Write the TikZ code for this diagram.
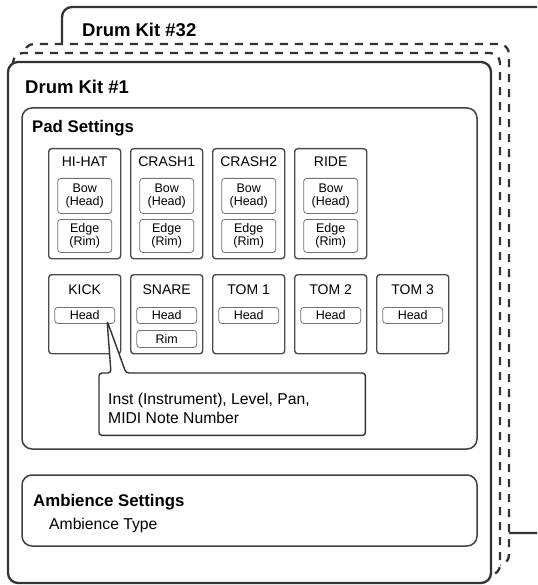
\documentclass[tikz,border=0pt]{standalone}
\usepackage{fontspec}
\setmainfont{Liberation Sans}
\usetikzlibrary{positioning, calc}

\begin{document}
\begin{tikzpicture}[x=1pt, y=-1pt, line join=round,
    kit/.style={draw=black!80, line width=2.3pt, fill=white, rounded corners=10pt},
    kitcopy/.style={kit, dash pattern=on 8pt off 7pt},
    group/.style={draw=black!75, line width=1.5pt, rounded corners=10pt},
    pad/.style={draw=black!70, line width=1.4pt, rounded corners=3pt, inner sep=0pt,
        minimum width=72pt, anchor=north west},
    padname/.style={anchor=base, inner sep=0pt, font=\fontsize{14}{16}\selectfont},
    zone/.style={draw=black!55, line width=0.8pt, rounded corners=3pt, inner sep=0pt,
        anchor=north, align=center, font=\fontsize{12.5}{13}\selectfont},
    kittitle/.style={anchor=base west, inner sep=0pt, font=\bfseries\fontsize{18.5}{22}\selectfont},
    grouptitle/.style={anchor=base west, inner sep=0pt, font=\bfseries\fontsize{16.8}{20}\selectfont},
    plain/.style={anchor=base west, inner sep=0pt, font=\fontsize{15.7}{19}\selectfont},
    notebox/.style={anchor=north west, inner sep=0pt, minimum width=266pt, minimum height=62pt},
    pointer/.style={draw=black!80, line width=1.4pt, fill=white, rounded corners=3pt}]

    \useasboundingbox (0,0) rectangle (537,585);
    \clip (0,0) rectangle (537,585);

    % kits, back to front
    \draw[kit] (62,7) rectangle (575,533);
    \node[kittitle] (kit32) at (82,36.7) {Drum Kit \#32};
    \draw[kitcopy] (24,44) rectangle (509,565);
    \draw[kitcopy] (13,53) rectangle (500,575);
    \draw[kit] (8,62) rectangle (491,583);
    \node[kittitle] (kit1) at (25,94) {Drum Kit \#1};

    % pad settings
    \draw[group] (22,108) rectangle (477,449);
    \node[grouptitle] (padset) at (32,133) {Pad Settings};

    \foreach \name/\lbl [count=\i from 0] in {hihat/HI-HAT, crash1/CRASH1, crash2/CRASH2, ride/RIDE} {
        \node[pad, minimum height=110pt] (\name) at (48+82*\i,148) {};
        \node[padname] (\name-t) at ($(\name.north)+(0,19)$) {\lbl};
        \node[zone, minimum width=54pt, minimum height=35pt] (\name-bow) at ($(\name.north)+(0,30)$) {Bow\\(Head)};
        \node[zone, minimum width=54pt, minimum height=33pt] (\name-edge) at ($(\name.north)+(0,71)$) {Edge\\(Rim)};
    }

    \foreach \name/\lbl [count=\i from 0] in {kick/KICK, snare/SNARE, tom1/TOM 1, tom2/TOM 2, tom3/TOM 3} {
        \node[pad, minimum height=79pt] (\name) at (48+82*\i,274) {};
        \node[padname] (\name-t) at ($(\name.north)+(0,20)$) {\lbl};
        \node[zone, minimum width=60pt, minimum height=16pt] (\name-head) at ($(\name.north)+(0,33)$) {Head};
    }
    \node[zone, minimum width=60pt, minimum height=17pt] (snare-rim) at ($(snare.north)+(0,56)$) {Rim};

    % callout
    \node[notebox] (note) at (99,373) {};
    \coordinate (tip) at ($(kick-head.south east)+(-8,-3)$);
    \draw[pointer] ($(note.north west)+(27,0)$) -- (note.north east) -- (note.south east)
        -- (note.south west) -- (note.north west) -- ($(note.north west)+(12,0)$) -- (tip) -- cycle;
    \node[plain] (note-a) at (108,404) {Inst (Instrument), Level, Pan,};
    \node[plain] (note-b) at (108,423) {MIDI Note Number};

    % ambience settings
    \draw[group] (22,475) rectangle (477,546);
    \node[grouptitle] (ambset) at (33,506) {Ambience Settings};
    \node[plain] (ambtype) at (49,529) {Ambience Type};
\end{tikzpicture}
\end{document}
